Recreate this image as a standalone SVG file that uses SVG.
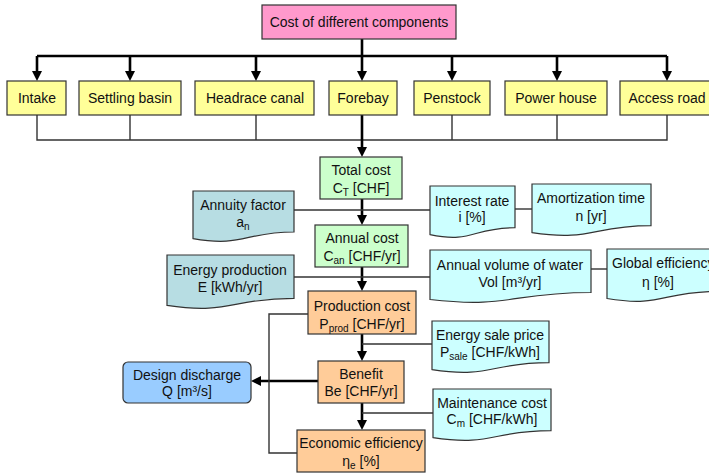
<svg xmlns="http://www.w3.org/2000/svg" width="709" height="474" viewBox="0 0 709 474">
<style>
text{font-family:"Liberation Sans",Arial,sans-serif;font-size:14px;fill:#111;text-anchor:middle}
.box{stroke:#333;stroke-width:1.2}
.pink{fill:#FF99CC}.yel{fill:#FFFF99}.grn{fill:#CCFFCC}.org{fill:#FFCC99}.teal{fill:#B7DDE3}.cyan{fill:#CCFFFF}.blue{fill:#99CCFF}
.thin{stroke:#333;stroke-width:1.4;fill:none}
.thick{stroke:#000;stroke-width:2.6;fill:none}
.arr{marker-end:url(#ah)}
.sub{font-size:10px}
</style>
<defs>
<marker id="ah" markerUnits="userSpaceOnUse" markerWidth="11" markerHeight="11" refX="1" refY="5" orient="auto">
<path d="M0,0 L10,5 L0,10 Z" fill="#000"/>
</marker>
</defs>

<g id="connectors">
<line class="thick" x1="362" y1="39" x2="362" y2="56"/>
<line class="thick" x1="37" y1="56" x2="667" y2="56"/>
<line class="thick arr" x1="37" y1="56" x2="37" y2="72"/>
<line class="thick arr" x1="130" y1="56" x2="130" y2="72"/>
<line class="thick arr" x1="256" y1="56" x2="256" y2="72"/>
<line class="thick arr" x1="362" y1="56" x2="362" y2="72"/>
<line class="thick arr" x1="452" y1="56" x2="452" y2="72"/>
<line class="thick arr" x1="557" y1="56" x2="557" y2="72"/>
<line class="thick arr" x1="667" y1="56" x2="667" y2="72"/>
<path class="thin" d="M37,115 V140 H667 V115 M130,115 V140 M256,115 V140 M452,115 V140 M557,115 V140"/>
<line class="thick arr" x1="362" y1="115" x2="362" y2="148"/>
<line class="thick arr" x1="362" y1="199" x2="362" y2="216"/>
<line class="thin" x1="294" y1="210" x2="430" y2="210"/>
<line class="thin" x1="515" y1="209" x2="532" y2="209"/>
<line class="thick arr" x1="362" y1="267" x2="362" y2="282"/>
<line class="thin" x1="294" y1="277" x2="430" y2="277"/>
<line class="thin" x1="591" y1="269" x2="607" y2="269"/>
<line class="thick arr" x1="362" y1="334" x2="362" y2="352"/>
<line class="thin" x1="362" y1="344" x2="432" y2="344"/>
<line class="thick arr" x1="318" y1="381" x2="260" y2="381"/>
<line class="thick arr" x1="362" y1="403" x2="362" y2="421"/>
<line class="thin" x1="362" y1="413" x2="433" y2="413"/>
<path class="thin" d="M308,314 H269 V453 H297"/>
</g>

<g id="cost-components"><rect class="box pink" x="262" y="5" width="194" height="34"/><text x="359" y="27">Cost of different components</text></g>
<g id="intake"><rect class="box yel" x="7" y="81" width="59" height="34"/><text x="37" y="103">Intake</text></g>
<g id="settling-basin"><rect class="box yel" x="79" y="81" width="102" height="34"/><text x="130" y="103">Settling basin</text></g>
<g id="headrace-canal"><rect class="box yel" x="195" y="81" width="119" height="34"/><text x="255" y="103">Headrace canal</text></g>
<g id="forebay"><rect class="box yel" x="329" y="81" width="68" height="34"/><text x="363" y="103">Forebay</text></g>
<g id="penstock"><rect class="box yel" x="414" y="81" width="76" height="34"/><text x="452" y="103">Penstock</text></g>
<g id="power-house"><rect class="box yel" x="505" y="81" width="102" height="34"/><text x="556" y="103">Power house</text></g>
<g id="access-road"><rect class="box yel" x="620" y="81" width="95" height="34"/><text x="667" y="103">Access road</text></g>

<g id="total-cost"><rect class="box grn" x="320" y="157" width="82" height="42"/><text x="361" y="175">Total cost</text><text x="361" y="193">C<tspan class="sub" dy="3">T</tspan><tspan dy="-3"> [CHF]</tspan></text></g>
<g id="annuity-factor"><path class="box teal" d="M193,191 H294 V232 C243.5,232 243.5,247.5 193,238.6 Z"/><text x="243" y="210">Annuity factor</text><text x="243" y="227">a<tspan class="sub" dy="3">n</tspan></text></g>
<g id="interest-rate"><path class="box cyan" d="M430,186 H515 V227.7 C472.5,227.7 472.5,243.6 430,234.6 Z"/><text x="472" y="206">Interest rate</text><text x="472" y="222">i [%]</text></g>
<g id="amortization-time"><path class="box cyan" d="M532,184 H651 V225.7 C591.5,225.7 591.5,241.6 532,232.6 Z"/><text x="591" y="203">Amortization time</text><text x="591" y="221">n [yr]</text></g>
<g id="annual-cost"><rect class="box grn" x="315" y="225" width="93" height="42"/><text x="362" y="243">Annual cost</text><text x="362" y="261">C<tspan class="sub" dy="3">an</tspan><tspan dy="-3"> [CHF/yr]</tspan></text></g>
<g id="energy-production"><path class="box teal" d="M167,255 H294 V298.3 C230.5,298.3 230.5,314.8 167,305.4 Z"/><text x="230" y="275">Energy production</text><text x="230" y="292">E [kWh/yr]</text></g>
<g id="annual-volume"><path class="box cyan" d="M430,250 H591 V292.5 C510.5,292.5 510.5,308.7 430,299.5 Z"/><text x="510" y="270">Annual volume of water</text><text x="510" y="287">Vol [m³/yr]</text></g>
<g id="global-efficiency"><path class="box cyan" d="M607,249 H717 V291.5 C662,291.5 662,307.7 607,298.5 Z"/><text x="612" y="268" style="text-anchor:start">Global efficiency</text><text x="658" y="287">η [%]</text></g>
<g id="production-cost"><rect class="box org" x="308" y="291" width="108" height="43"/><text x="362" y="311">Production cost</text><text x="362" y="329">P<tspan class="sub" dy="3">prod</tspan><tspan dy="-3"> [CHF/yr]</tspan></text></g>
<g id="energy-sale-price"><path class="box cyan" d="M432,321 H549 V362.7 C490.5,362.7 490.5,378.6 432,369.6 Z"/><text x="490" y="340">Energy sale price</text><text x="490" y="357">P<tspan class="sub" dy="3">sale</tspan><tspan dy="-3"> [CHF/kWh]</tspan></text></g>
<g id="benefit"><rect class="box org" x="318" y="361" width="86" height="42"/><text x="361" y="379">Benefit</text><text x="361" y="396">Be [CHF/yr]</text></g>
<g id="design-discharge"><rect class="box blue" x="123" y="362" width="128" height="41" rx="5"/><text x="187" y="380">Design discharge</text><text x="187" y="396">Q [m³/s]</text></g>
<g id="maintenance-cost"><path class="box cyan" d="M433,389 H551 V430.7 C492,430.7 492,446.6 433,437.6 Z"/><text x="492" y="408">Maintenance cost</text><text x="492" y="424">C<tspan class="sub" dy="3">m</tspan><tspan dy="-3"> [CHF/kWh]</tspan></text></g>
<g id="economic-efficiency"><rect class="box org" x="297" y="430" width="128" height="42"/><text x="361" y="448">Economic efficiency</text><text x="361" y="466">η<tspan class="sub" dy="3">e</tspan><tspan dy="-3"> [%]</tspan></text></g>
</svg>
